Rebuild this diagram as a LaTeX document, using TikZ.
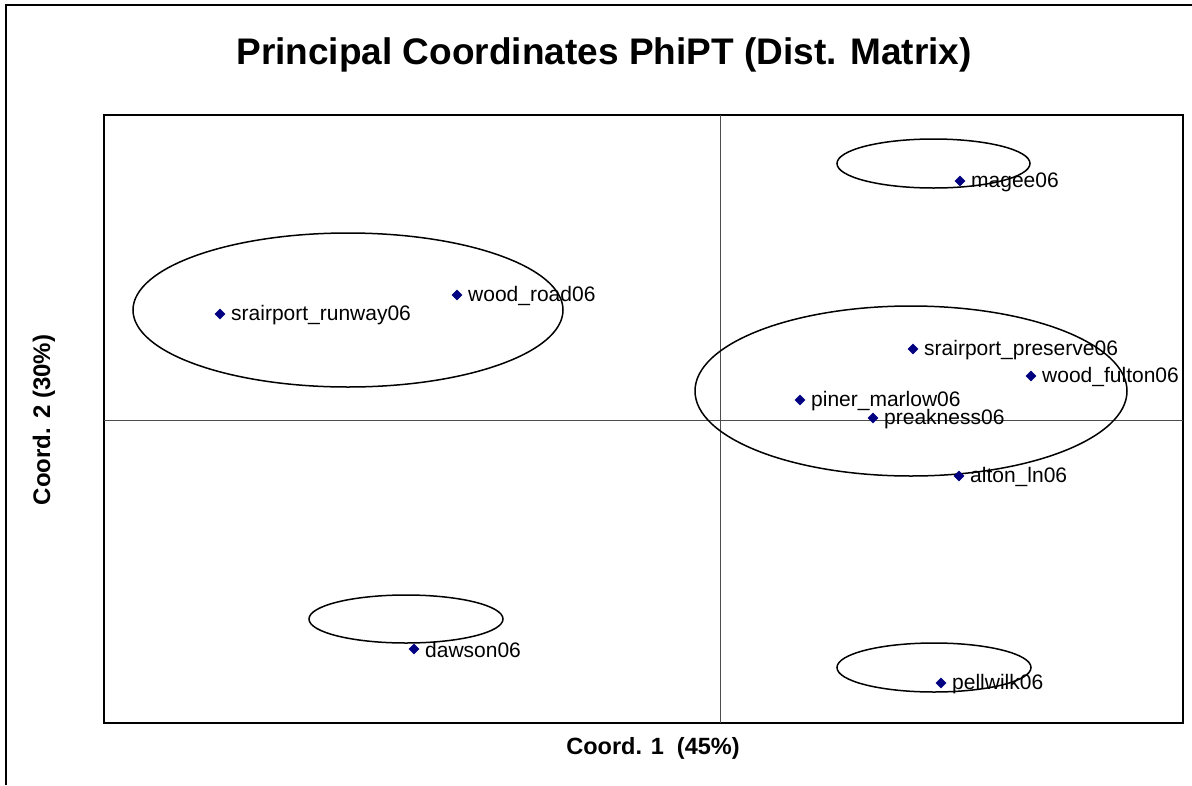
\documentclass[tikz,border=0pt]{standalone}
\usepackage{fontspec}
\setmainfont{Liberation Sans}
\usetikzlibrary{shapes.geometric}
\definecolor{navy}{RGB}{0,0,128}

\begin{document}
\begin{tikzpicture}[x=1pt,y=-1pt,
  sample/.style={diamond,fill=navy,inner sep=0pt,minimum size=11pt},
  samplelabel/.style={anchor=west,inner sep=0pt,font=\fontsize{21}{21}\selectfont},
  group/.style={draw=black,line width=1.5pt}]
  \useasboundingbox (0,0) rectangle (1192,785);

  % outer frame (cut off at right and bottom)
  \draw[line width=1.5pt] (6,785) -- (6,5) -- (1192,5);

  % plot area and axes
  \draw[line width=1.5pt] (104,115) rectangle (1183,723);
  \draw[gray!60!black] (720,115) -- (720,723);
  \draw[gray!60!black] (104,420) -- (1183,420);

  \node[font=\bfseries\fontsize{37}{37}\selectfont] (title) at (604,55) {Principal Coordinates PhiPT (Dist. Matrix)};
  \node[font=\bfseries\fontsize{23.5}{23.5}\selectfont] (xlab) at (653,748) {Coord. 1\ \ (45\%)};
  \node[font=\bfseries\fontsize{24}{24}\selectfont,rotate=90] (ylab) at (44,420) {Coord. 2 (30\%)};

  % groups
  \draw[group] (933.5,163.5) ellipse [x radius=96.5, y radius=24.5];
  \draw[group] (348,310) ellipse [x radius=215, y radius=77];
  \draw[group] (911,391) ellipse [x radius=216, y radius=85];
  \draw[group] (406,619) ellipse [x radius=97, y radius=24];
  \draw[group] (934,667.5) ellipse [x radius=97, y radius=24.5];

  % samples
  \foreach \x/\y/\id/\txt in {
      960/181/mag/magee06,
      457/295/wro/wood\_road06,
      220/314/srr/srairport\_runway06,
      913/349/srp/srairport\_preserve06,
      1031/376/wfu/wood\_fulton06,
      800/400/pin/piner\_marlow06,
      873/418/pre/preakness06,
      959/476/alt/alton\_ln06,
      414/649/daw/dawson06,
      941/683/pel/pellwilk06}
  { \node[sample] (\id) at (\x,\y) {};
    \node[samplelabel] (\id-l) at (\x+11,\y+1) {\txt}; }
\end{tikzpicture}
\end{document}
